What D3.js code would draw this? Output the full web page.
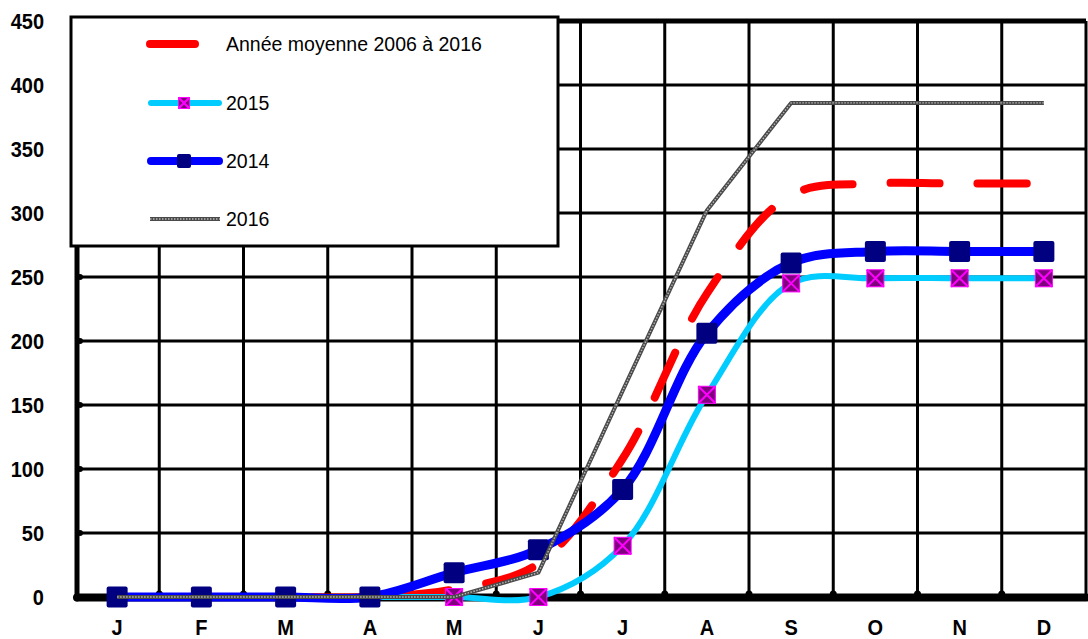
<!DOCTYPE html>
<html>
<head>
<meta charset="utf-8">
<script src="https://cdn.jsdelivr.net/npm/d3@7"></script>
<style>
  body { margin: 0; background: #fff; }
  text { font-family: "Liberation Sans", Arial, sans-serif; }
</style>
</head>
<body>
<div id="chart"></div>
<script>
// data
const months = ["J", "F", "M", "A", "M", "J", "J", "A", "S", "O", "N", "D"]
const moyenne = [0, 0, 0, 0, 6, 26, 108, 237, 314, 323, 323, 323]
const y2015 = [0, 0, 0, 0, 0, 0, 40, 158, 245, 249, 249, 249]
const y2014 = [0, 0, 0, 0, 19, 37, 84, 206, 261, 270, 270, 270]
const y2016 = [0, 0, 0, 0, 0, 19, 161, 302, 386, 386, 386, 386]
const yTicks = [0, 50, 100, 150, 200, 250, 300, 350, 400, 450]
const legendLabels = ["Année moyenne 2006 à 2016", "2015", "2014", "2016"]

const W = 1088, H = 639
const LEFT = 75, RIGHT = 1086, TOP = 21, BOTTOM = 597

const svg = d3.select("#chart").append("svg")
  .attr("width", W).attr("height", H)

svg.append("rect").attr("width", W).attr("height", H).attr("fill", "#fff")

const x = d3.scaleBand()
  .domain(d3.range(months.length))
  .range([LEFT, RIGHT])
const cx = i => x(i) + x.bandwidth() / 2

const y = d3.scaleLinear()
  .domain([0, 450])
  .range([BOTTOM, TOP])

const g = svg.append("g")

// horizontal grid
g.selectAll(".hgrid")
  .data(yTicks.filter(t => t > 0 && t < 450))
  .enter().append("line")
    .attr("x1", LEFT).attr("x2", RIGHT)
    .attr("y1", d => y(d)).attr("y2", d => y(d))
    .attr("stroke", "#000").attr("stroke-width", 3)

// vertical grid at band edges
const edges = d3.range(1, months.length).map(i => x(i))
g.selectAll(".vgrid")
  .data(edges)
  .enter().append("line")
    .attr("x1", d => d).attr("x2", d => d)
    .attr("y1", TOP).attr("y2", BOTTOM)
    .attr("stroke", "#000").attr("stroke-width", 3)

// little bumps where the grid meets the axes
g.selectAll(".vbump")
  .data(edges)
  .enter().append("circle")
    .attr("cx", d => d).attr("cy", BOTTOM - 3).attr("r", 3.5)
    .attr("fill", "#000")
g.selectAll(".hbump")
  .data(yTicks.filter(t => t > 0 && t < 450))
  .enter().append("circle")
    .attr("cx", LEFT + 5).attr("cy", d => y(d)).attr("r", 3)
    .attr("fill", "#000")

// frame
g.append("line").attr("x1", RIGHT).attr("x2", RIGHT).attr("y1", TOP).attr("y2", BOTTOM)
  .attr("stroke", "#000").attr("stroke-width", 3)
g.append("line").attr("x1", LEFT).attr("x2", RIGHT).attr("y1", TOP).attr("y2", TOP)
  .attr("stroke", "#000").attr("stroke-width", 5)
g.append("line").attr("x1", LEFT + 2).attr("x2", LEFT + 2).attr("y1", TOP).attr("y2", BOTTOM + 2)
  .attr("stroke", "#000").attr("stroke-width", 5).attr("stroke-linecap", "round")
g.append("line").attr("x1", LEFT + 2).attr("x2", RIGHT).attr("y1", BOTTOM + 0.5).attr("y2", BOTTOM + 0.5)
  .attr("stroke", "#000").attr("stroke-width", 8).attr("stroke-linecap", "round")

// axis labels (a bit taller than wide, like the original)
const yAxis = d3.axisLeft(y).tickValues(yTicks).tickSize(0).tickPadding(0)
svg.append("g")
  .attr("transform", "translate(44,0)")
  .call(yAxis)
  .call(s => s.select(".domain").remove())
  .selectAll("text")
    .attr("font-size", 20).attr("font-weight", "bold")
    .attr("font-family", "Liberation Sans, Arial, sans-serif")
    .attr("fill", "#000")
    .attr("transform", "scale(1,1.12)")

const xAxis = d3.axisBottom(x).tickFormat(i => months[i]).tickSize(0).tickPadding(0)
svg.append("g")
  .attr("transform", "translate(0,619)")
  .call(xAxis)
  .call(s => s.select(".domain").remove())
  .selectAll("text")
    .attr("dy", "0.71em")
    .attr("y", 0)
    .attr("font-size", 20).attr("font-weight", "bold")
    .attr("font-family", "Liberation Sans, Arial, sans-serif")
    .attr("fill", "#000")
    .attr("transform", "scale(1,1.12)")

// series
const smooth = d3.line()
  .x((d, i) => cx(i))
  .y(d => y(d))
  .curve(d3.curveCatmullRom)
const straight = d3.line()
  .x((d, i) => cx(i))
  .y(d => y(d))

const series = svg.append("g")

series.append("path")
  .attr("d", smooth(moyenne))
  .attr("fill", "none").attr("stroke", "#ff0000").attr("stroke-width", 8)
  .attr("stroke-linecap", "round")
  .attr("stroke-dasharray", "49,38").attr("stroke-dashoffset", 65)

function purpleMark(sel, s) {
  sel.append("rect")
    .attr("x", -s / 2).attr("y", -s / 2).attr("width", s).attr("height", s)
    .attr("fill", "#800080")
  sel.append("path")
    .attr("d", `M${-s / 2},${-s / 2}L${s / 2},${s / 2}M${s / 2},${-s / 2}L${-s / 2},${s / 2}`)
    .attr("stroke", "#ff00ff").attr("stroke-width", 2)
  sel.append("rect")
    .attr("x", -s / 2).attr("y", -s / 2).attr("width", s).attr("height", s)
    .attr("fill", "none").attr("stroke", "#ff00ff").attr("stroke-width", 1)
}
function navyMark(sel, s) {
  sel.append("rect")
    .attr("x", -s / 2).attr("y", -s / 2).attr("width", s).attr("height", s)
    .attr("rx", 2)
    .attr("fill", "#000080")
}
function greyLine(sel, d) {
  sel.append("path").attr("d", d)
    .attr("fill", "none").attr("stroke", "#4a4a4a").attr("stroke-width", 4)
    .attr("stroke-linejoin", "round")
  sel.append("path").attr("d", d)
    .attr("fill", "none").attr("stroke", "#b8b8b8").attr("stroke-width", 1.4)
    .attr("stroke-dasharray", "1.5,1.5")
}

// 2015
series.append("path")
  .attr("d", smooth(y2015))
  .attr("fill", "none").attr("stroke", "#00ccff").attr("stroke-width", 6)
  .attr("stroke-linecap", "round")
series.selectAll(".m2015")
  .data(y2015)
  .enter().append("g")
    .attr("transform", (d, i) => `translate(${cx(i)},${y(d)})`)
    .each(function() { purpleMark(d3.select(this), 17) })

// 2014
series.append("path")
  .attr("d", smooth(y2014))
  .attr("fill", "none").attr("stroke", "#0000ff").attr("stroke-width", 9)
  .attr("stroke-linecap", "round")
series.selectAll(".m2014")
  .data(y2014)
  .enter().append("g")
    .attr("transform", (d, i) => `translate(${cx(i)},${y(d)})`)
    .each(function() { navyMark(d3.select(this), 21) })

// 2016
series.append("g").call(greyLine, straight(y2016))

// legend
const lg = svg.append("g")
lg.append("rect")
  .attr("x", 71).attr("y", 17).attr("width", 487).attr("height", 229)
  .attr("fill", "#fff").attr("stroke", "#000").attr("stroke-width", 3)

const rowY = [44, 103, 161, 219]

lg.append("line")
  .attr("x1", 150).attr("x2", 195).attr("y1", rowY[0]).attr("y2", rowY[0])
  .attr("stroke", "#ff0000").attr("stroke-width", 8).attr("stroke-linecap", "round")

lg.append("line")
  .attr("x1", 151).attr("x2", 219).attr("y1", rowY[1]).attr("y2", rowY[1])
  .attr("stroke", "#00ccff").attr("stroke-width", 6).attr("stroke-linecap", "round")
lg.append("g").attr("transform", `translate(184,${rowY[1]})`)
  .each(function() { purpleMark(d3.select(this), 11) })

lg.append("line")
  .attr("x1", 151).attr("x2", 219).attr("y1", rowY[2]).attr("y2", rowY[2])
  .attr("stroke", "#0000ff").attr("stroke-width", 8).attr("stroke-linecap", "round")
lg.append("g").attr("transform", `translate(184,${rowY[2]})`)
  .each(function() { navyMark(d3.select(this), 14) })

lg.append("g").call(greyLine, `M150,${rowY[3]}L220,${rowY[3]}`)

lg.selectAll(".ltext")
  .data(legendLabels)
  .enter().append("text")
    .attr("x", 226)
    .attr("y", (d, i) => rowY[i])
    .attr("dy", "0.36em")
    .attr("font-size", 19.5)
    .attr("fill", "#000")
    .text(d => d)
</script>
</body>
</html>
